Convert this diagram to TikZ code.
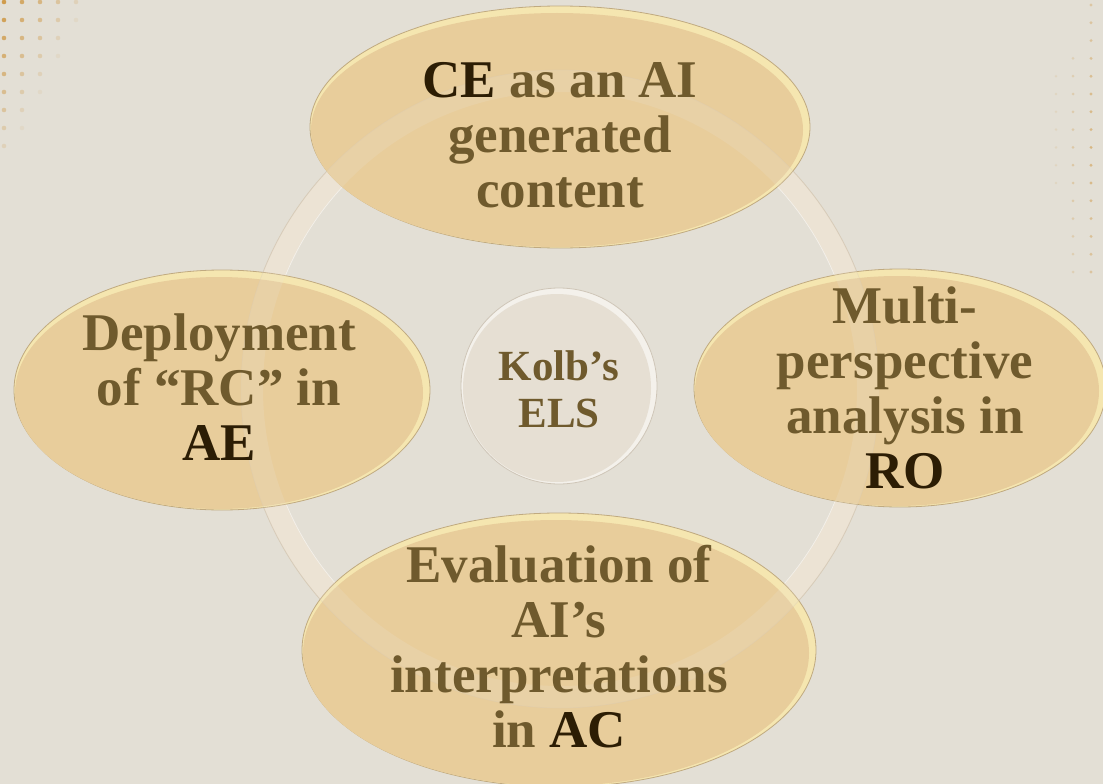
\documentclass[tikz,border=0pt]{standalone}
\usepackage{fontspec}
\setmainfont{Liberation Serif}
\usetikzlibrary{shapes.geometric}
\definecolor{bg}{HTML}{E3DFD5}
\definecolor{dotc}{HTML}{D09C4C}
\definecolor{ringc}{HTML}{ECE3D4}
\definecolor{ringedge}{HTML}{D6CAB7}
\definecolor{petalrim}{HTML}{F5E6B0}
\definecolor{petalin}{HTML}{E8CD9B}
\definecolor{petaledge}{HTML}{C0AA80}
\definecolor{hubrim}{HTML}{F4F1EB}
\definecolor{hubin}{HTML}{E6DFD3}
\definecolor{hubedge}{HTML}{CFC6B8}
\definecolor{txt}{HTML}{6F5A2D}
\definecolor{txtdark}{HTML}{2C1D04}
\newcommand{\dk}[1]{\textcolor{txtdark}{#1}}
\tikzset{
  petalout/.style={ellipse, inner sep=0pt, fill=petalrim, draw=petaledge, line width=0.8pt},
  petalinner/.style={ellipse, inner sep=0pt, fill=petalin},
  hubout/.style={circle, inner sep=0pt, fill=hubrim, draw=hubedge, line width=0.8pt},
  hubinner/.style={circle, inner sep=0pt, fill=hubin},
  lbl/.style={inner sep=0pt, align=center, text=txt, font=\fontsize{53}{55}\selectfont\bfseries},
  hublbl/.style={inner sep=0pt, align=center, text=txt, font=\fontsize{43}{47}\selectfont\bfseries},
  dotmark/.style={fill=dotc},
  ringband/.style={draw=ringc, line width=22pt},
  ringline/.style={draw=ringedge, line width=0.7pt}
}
\begin{document}
\begin{tikzpicture}[x=1pt,y=-1pt]
\fill[bg] (0,0) rectangle (1103,784);
\useasboundingbox (0,0) rectangle (1103,784);
% dot patterns
\foreach \r in {0,...,8}{
  \foreach \c in {0,...,4}{
    \pgfmathsetmacro\op{1.0-0.2*\c-0.1*\r}
    \ifdim\op pt>0.06pt
      \fill[dotmark, opacity=\op] (4+18*\c, 2+18*\r) circle (2.3);
    \fi
  }
}
\foreach \r in {0,...,15}{
  \pgfmathsetmacro\op{0.6-0.03*abs(\r-8)}
  \fill[dotmark, opacity=\op] (1091, 5+17.8*\r) circle (1.6);
}
\foreach \r in {3,...,15}{
  \pgfmathsetmacro\op{0.35-0.02*abs(\r-9)}
  \fill[dotmark, opacity=\op] (1073, 5+17.8*\r) circle (1.5);
}
\foreach \r in {4,...,10}{
  \fill[dotmark, opacity=0.14] (1056, 5+17.8*\r) circle (1.4);
}
% ring
\coordinate (rc) at (560,389);
\path[ringband] (rc) circle[radius=308];
\draw[ringline] (rc) circle[radius=319];
\draw[draw=white, opacity=0.6, line width=0.7pt] (rc) circle[radius=297];
% petals
\node[petalout, minimum width=500pt, minimum height=242pt] (top) at (560,127) {};
\node[petalinner, minimum width=492pt, minimum height=234pt] (topin) at (557,130) {};
\node[petalout, minimum width=416pt, minimum height=240pt] (left) at (222,390) {};
\node[petalinner, minimum width=408pt, minimum height=232pt] (leftin) at (219,393) {};
\node[petalout, minimum width=412pt, minimum height=238pt] (right) at (900,388) {};
\node[petalinner, minimum width=404pt, minimum height=230pt] (rightin) at (897,391) {};
\node[petalout, minimum width=514pt, minimum height=274pt] (bottom) at (559,650) {};
\node[petalinner, minimum width=506pt, minimum height=266pt] (bottomin) at (556,653) {};
% ring seen through petals
\path[ringband, draw opacity=0.2] (rc) circle[radius=308];
\draw[ringline, draw opacity=0.3] (rc) circle[radius=319];
% hub
\node[hubout, minimum size=196pt] (hub) at (559,386) {};
\node[hubinner, minimum size=188pt] (hubi) at (557,388) {};
% labels
\node[lbl] (ttop) at (560,135) {\dk{CE} as an AI\\generated\\content};
\node[lbl] (tleft) at (219,387) {Deployment\\of “RC” in\\\dk{AE}};
\node[lbl] (tright) at (905,388) {Multi-\\perspective\\analysis in\\\dk{RO}};
\node[lbl] (tbottom) at (559,647) {Evaluation of\\AI’s\\interpretations\\in \dk{AC}};
\node[hublbl] (thub) at (559,389) {Kolb’s\\ELS};
\end{tikzpicture}
\end{document}
